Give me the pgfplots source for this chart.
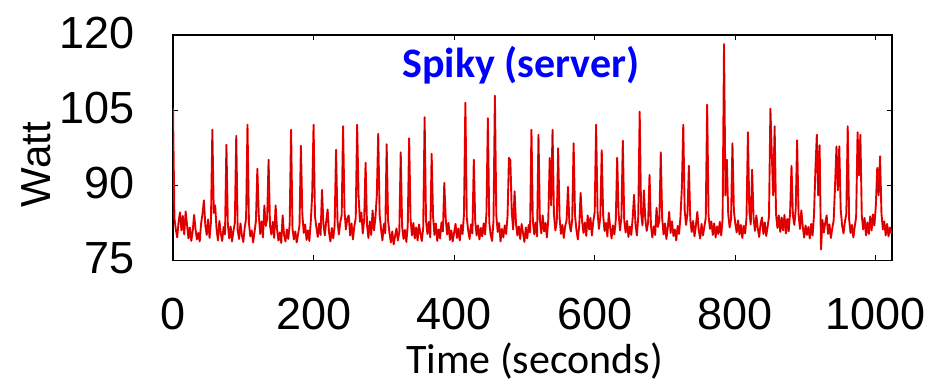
\documentclass[border=0pt]{standalone}
\usepackage{fontspec}
\setmainfont{Liberation Sans}
\newfontfamily\carlito{Carlito}
\usepackage{pgfplots}
\pgfplotsset{compat=1.18}
\definecolor{plotred}{RGB}{250,0,0}
\definecolor{darkred}{RGB}{180,0,0}
\pgfplotstableread{
t w
0 105.4
2 83.5
4 81.2
6 79.6
8 82.8
10 84.6
12 81.0
14 83.9
16 80.2
18 84.8
20 82.1
22 79.4
24 81.6
26 78.9
28 80.8
30 84.1
32 81.3
34 79.2
36 80.5
38 78.8
40 82.4
42 84.3
44 87.0
46 82.0
48 80.1
50 83.2
52 79.5
54 82.6
56 101.1
58 84.5
60 86.0
62 81.2
64 79.0
66 82.9
68 80.4
70 78.9
72 81.7
74 80.2
76 98.1
78 82.3
80 79.4
82 81.8
84 78.8
86 80.9
88 82.5
90 99.9
92 81.1
94 79.3
96 82.4
98 80.0
100 78.7
102 81.5
104 83.4
106 102.1
108 82.6
110 79.8
112 81.0
114 78.6
116 80.7
118 82.9
120 93.3
122 84.2
124 80.3
126 82.8
128 79.6
130 86.0
132 81.9
134 83.4
136 95.1
138 82.0
140 80.2
142 82.7
144 79.5
146 86.0
148 81.3
150 79.0
152 80.6
154 78.5
156 84.0
158 80.1
160 78.8
162 81.2
164 79.3
166 82.1
168 101.1
170 81.4
172 79.2
174 80.8
176 78.6
178 80.3
180 82.0
182 97.9
184 84.3
186 80.5
188 82.2
190 79.1
192 81.0
194 78.9
196 82.7
198 88.0
200 102.1
202 83.8
204 81.6
206 79.7
208 82.4
210 80.1
212 89.1
214 82.3
216 80.0
218 82.8
220 85.2
222 80.6
224 78.8
226 81.5
228 79.4
230 82.0
232 97.1
234 83.0
236 80.2
238 82.6
240 84.0
242 101.8
244 85.0
246 81.2
248 83.3
250 84.0
252 80.0
254 82.4
256 79.2
258 81.8
260 83.5
262 102.1
264 88.0
266 82.7
268 84.6
270 80.4
272 83.1
274 94.5
276 82.2
278 79.5
280 82.8
282 80.1
284 85.0
286 81.0
288 83.6
290 88.0
292 100.3
294 84.1
296 81.3
298 79.0
300 82.3
302 80.4
304 98.2
306 83.0
308 80.5
310 78.6
312 80.8
314 78.2
316 79.9
318 81.4
320 79.0
322 80.7
324 96.6
326 81.8
328 79.3
330 81.1
332 78.7
334 82.0
336 99.4
338 83.2
340 80.0
342 82.5
344 79.4
346 81.6
348 79.0
350 82.2
352 80.4
354 78.9
356 81.5
358 103.6
360 82.9
362 80.3
364 82.7
366 79.6
368 96.3
370 83.8
372 80.1
374 82.4
376 78.9
378 81.2
380 79.4
382 82.6
384 80.8
386 90.5
388 83.4
390 80.2
392 82.5
394 79.1
396 81.0
398 78.8
400 80.6
402 82.3
404 79.5
406 81.4
408 79.0
410 82.1
412 80.3
414 84.2
416 106.5
418 83.5
420 81.0
422 79.3
424 82.2
426 80.4
428 95.1
430 82.8
432 80.0
434 82.0
436 79.2
438 81.5
440 79.8
442 82.4
444 80.2
446 84.5
448 103.4
450 82.6
452 80.1
454 78.9
456 83.0
458 107.9
460 84.0
462 80.7
464 82.5
466 78.8
468 81.3
470 79.6
472 82.0
474 80.3
476 83.9
478 95.5
480 95.0
482 84.6
484 81.2
486 88.8
488 82.4
490 80.0
492 81.8
494 79.3
496 82.3
498 80.5
500 78.7
502 81.6
504 79.4
506 82.1
508 80.6
510 101.1
512 82.9
514 80.2
516 82.6
518 79.8
520 100.1
522 83.1
524 80.4
526 84.0
528 80.8
530 82.5
532 79.6
534 83.3
536 95.5
538 86.0
540 101.1
542 84.2
544 81.0
546 82.7
548 97.4
550 83.6
552 80.3
554 82.1
556 79.5
558 81.9
560 83.0
562 89.7
564 82.4
566 80.8
568 83.2
570 98.4
572 84.0
574 81.1
576 79.2
578 82.0
580 88.5
582 83.0
584 80.5
586 82.6
588 79.9
590 84.0
592 81.2
594 83.5
596 80.0
598 82.8
600 84.6
602 102.1
604 84.8
606 81.3
608 83.7
610 97.0
612 84.1
614 80.9
616 82.5
618 79.8
620 84.5
622 81.6
624 79.4
626 82.0
628 80.2
630 83.1
632 95.5
634 84.3
636 81.0
638 83.6
640 98.9
642 83.0
644 80.6
646 82.9
648 79.7
650 81.8
652 80.1
654 83.4
656 88.1
658 82.2
660 80.0
662 83.8
664 104.7
666 84.5
668 82.0
670 89.0
672 83.3
674 80.9
676 82.6
678 92.1
680 82.0
682 79.6
684 81.8
686 80.1
688 85.5
690 81.7
692 83.0
694 96.6
696 83.4
698 80.2
700 82.4
702 79.3
704 81.6
706 84.7
708 80.5
710 82.8
712 79.9
714 81.2
716 79.0
718 81.9
720 80.3
722 83.6
724 89.5
726 102.1
728 85.0
730 82.1
732 84.4
734 93.9
736 83.2
738 80.7
740 82.9
742 79.8
744 82.0
746 84.7
748 81.1
750 79.4
752 82.3
754 80.0
756 81.7
758 83.5
760 106.1
762 83.9
764 81.3
766 82.8
768 80.1
770 82.4
772 79.6
774 81.8
776 80.3
778 82.7
780 80.0
782 83.4
784 118.2
786 88.0
788 95.1
790 84.2
792 81.6
794 83.3
796 98.4
798 85.0
800 82.4
802 80.6
804 83.0
806 80.2
808 82.1
810 79.5
812 81.9
814 80.4
816 83.6
818 100.6
820 84.8
822 82.2
824 93.1
826 83.5
828 80.9
830 84.0
832 81.4
834 79.7
836 82.3
838 83.6
840 80.3
842 82.6
844 79.9
846 81.7
848 83.8
850 105.3
852 96.0
854 88.0
856 101.8
858 84.2
860 81.5
862 84.0
864 80.7
866 83.6
868 81.0
870 84.1
872 80.4
874 83.3
876 80.8
878 84.5
880 93.9
882 84.0
884 82.1
886 85.2
888 99.0
890 84.4
892 81.3
894 85.0
896 81.8
898 79.6
900 82.0
902 80.1
904 81.7
906 79.4
908 82.3
910 80.0
912 84.0
914 93.0
916 100.1
918 88.0
920 98.0
922 77.2
924 83.1
926 80.6
928 82.5
930 84.0
932 80.3
934 82.2
936 79.5
938 81.4
940 83.0
942 90.0
944 97.8
946 89.0
948 97.8
950 85.2
952 82.0
954 80.4
956 82.7
958 84.3
960 101.8
962 83.2
964 80.5
966 82.1
968 79.6
970 81.8
972 83.7
974 100.6
976 92.0
978 100.1
980 84.0
982 81.2
984 83.5
986 80.0
988 82.6
990 80.3
992 83.8
994 81.0
996 84.2
998 82.0
1000 86.0
1002 93.5
1004 88.0
1006 95.8
1008 84.4
1010 81.2
1012 82.8
1014 80.0
1016 82.3
1018 79.8
1020 81.6
1022 80.4
}\power
\begin{document}
\begin{tikzpicture}
\begin{axis}[
  scale only axis,
  width=719bp, height=225.5bp,
  at={(173bp,123.5bp)}, anchor=south west,
  xmin=0, xmax=1023, ymin=75, ymax=120,
  xtick={0,200,400,600,800,1000},
  ytick={75,90,105,120},
  tick align=inside,
  major tick length=5bp,
  every tick/.style={black, line width=0.9bp},
  axis line style={black, line width=1.2bp},
  /pgf/number format/assume math mode=true,
  /pgf/number format/1000 sep={},
  ticklabel style={font=\fontsize{45bp}{50bp}\selectfont, inner sep=0pt},
  xticklabel style={anchor=base, yshift=-69bp},
  yticklabel style={anchor=east, xshift=-38bp, yshift=2bp},
  xlabel={Time (seconds)},
  xlabel style={font=\carlito\fontsize{42bp}{48bp}\selectfont, at={(axis description cs:0.503,-0.503)}, anchor=base, inner sep=0pt},
  ylabel={Watt},
  ylabel style={font=\fontsize{42bp}{48bp}\selectfont, at={(axis description cs:-0.171,0.425)}, anchor=base, inner sep=0pt},
  title={Spiky (server)},
  title style={font=\carlito\bfseries\fontsize{42bp}{48bp}\selectfont, text=blue, at={(axis description cs:0.484,0.785)}, anchor=base, inner sep=0pt},
]
\addplot[plotred, line width=1.9bp, line join=round] table[x=t, y=w] {\power};
\addplot[darkred, line width=0.45bp, line join=round] table[x=t, y=w] {\power};
\end{axis}
\pgfresetboundingbox
\useasboundingbox (0,0) rectangle (933bp,384bp);
\end{tikzpicture}
\end{document}
